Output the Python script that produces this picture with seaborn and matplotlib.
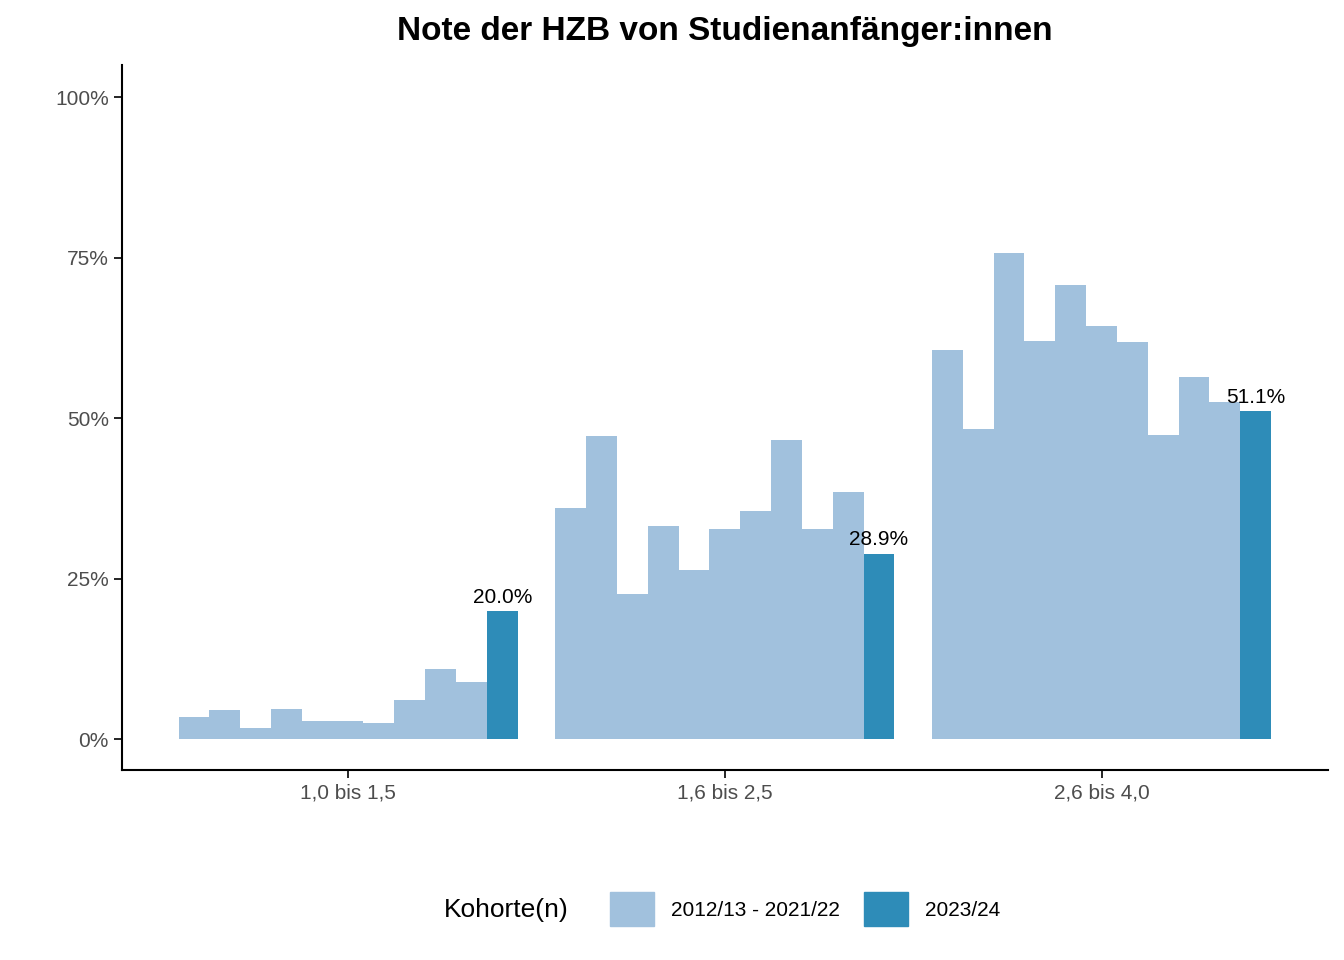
import matplotlib
matplotlib.use("Agg")
import matplotlib.pyplot as plt
import seaborn as sns
import pandas as pd
from matplotlib.patches import Patch

plt.rcParams["font.family"] = "Liberation Sans"

categories = ["1,0 bis 1,5", "1,6 bis 2,5", "2,6 bis 4,0"]
cohorts = ["2012/13", "2013/14", "2014/15", "2015/16", "2016/17", "2017/18",
           "2018/19", "2019/20", "2020/21", "2021/22", "2023/24"]
values = [
    [3.4, 4.5, 1.7, 4.7, 2.8, 2.8, 2.5, 6.1, 11.0, 8.9, 20.0],
    [36.0, 47.2, 22.6, 33.2, 26.3, 32.7, 35.5, 46.6, 32.7, 38.5, 28.9],
    [60.6, 48.4, 75.7, 62.1, 70.8, 64.4, 61.9, 47.4, 56.5, 52.6, 51.1],
]
light, dark = "#a1c1dd", "#2e8cb8"

rows = [(c, k, v) for c, vals in zip(categories, values) for k, v in zip(cohorts, vals)]
df = pd.DataFrame(rows, columns=["cat", "cohort", "val"])

fig = plt.figure(figsize=(13.44, 9.6), dpi=100)
ax = fig.add_axes([0.0908, 0.198, 0.897, 0.734])
palette = [light] * 10 + [dark]
sns.barplot(data=df, x="cat", y="val", hue="cohort", hue_order=cohorts, order=categories,
            palette=palette, width=0.9, gap=0, saturation=1, ax=ax, legend=False, errorbar=None)

# labels on latest cohort bars
latest = ax.containers[-1]
ax.bar_label(latest, labels=[f"{v:.1f}%" for v in [r[-1] for r in values]],
             fontsize=15, padding=3)

ax.set_xlim(-0.6, 2.6)
ax.set_ylim(-4.8, 105)
ax.set_yticks([0, 25, 50, 75, 100])
ax.set_yticklabels(["0%", "25%", "50%", "75%", "100%"])
ax.tick_params(labelsize=15, colors="#4d4d4d", length=6, width=1.2)
ax.tick_params(axis="both", color="black")
for s in ["top", "right"]:
    ax.spines[s].set_visible(False)
for s in ["left", "bottom"]:
    ax.spines[s].set_linewidth(1.5)
ax.set_xlabel("")
ax.set_ylabel("")
ax.set_title("Note der HZB von Studienanfänger:innen", fontsize=24, fontweight="bold", pad=18)

fig.text(0.33, 0.052, "Kohorte(n)", fontsize=19, ha="left", va="center")
handles = [Patch(color=light, label="2012/13 - 2021/22"), Patch(color=dark, label="2023/24")]
fig.legend(handles=handles, ncol=2, loc="center left", bbox_to_anchor=(0.44, 0.053),
           frameon=False, fontsize=15, handlelength=2.1, handleheight=2.1, columnspacing=1.2)

fig.savefig("out.png", dpi=100)
